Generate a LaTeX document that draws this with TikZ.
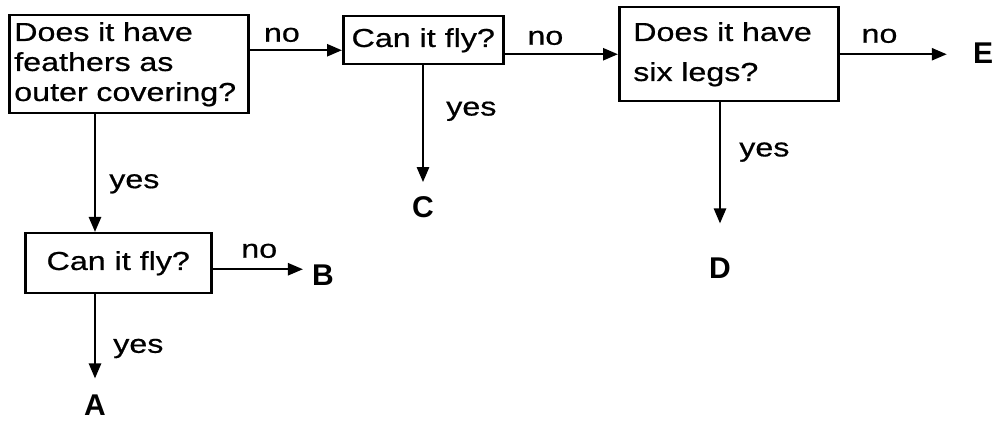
\documentclass[tikz,border=0pt]{standalone}
\usepackage{fontspec}
\setmainfont[FakeStretch=1.24, FakeBold=0.6]{Liberation Sans}
\newfontfamily\leaffont{Liberation Sans}
\usetikzlibrary{positioning, arrows.meta}

\begin{document}
\begin{tikzpicture}[x=1pt, y=-1pt,
  qbox/.style={draw, line width=2.5pt, font=\fontsize{26}{30}\selectfont, inner sep=5pt},
  fl/.style={-{Triangle[length=15pt, width=12pt]}, line width=2.5pt},
  et/.style={font=\fontsize{26}{30}\selectfont, inner sep=2pt},
  leaf/.style={font=\leaffont\bfseries\fontsize{30}{30}\selectfont, inner sep=0pt}]
\useasboundingbox (0,0) rectangle (994,422);
\node[qbox, anchor=north west, text width=229pt, minimum height=98pt, align=left] (feathers) at (8,14) {Does it have\\feathers as\\outer covering?};
\node[qbox, anchor=north west, minimum width=160pt, minimum height=48pt] (fly1) at (342,15) {Can it fly?};
\node[qbox, anchor=north west, text width=191pt, inner xsep=14pt, minimum height=94pt, align=left] (legs) at (618,6) {Does it have\\[10pt]six legs?};
\node[qbox, anchor=north west, minimum width=186pt, minimum height=60pt] (fly2) at (24,232) {Can it fly?};
\node[leaf] (A) at (95,405) {A};
\node[leaf] (B) at (323,275) {B};
\node[leaf] (C) at (423,207) {C};
\node[leaf] (D) at (720,268) {D};
\node[leaf] (E) at (983,53) {E};
\draw[fl] ([yshift=14pt]feathers.east) -- node[et, above=5pt, pos=0.35]{no} ([yshift=14pt]feathers.east -| fly1.west);
\draw[fl] ([yshift=-14pt]fly1.east) -- node[et, above=6pt, pos=0.36]{no} ([yshift=-14pt]fly1.east -| legs.west);
\draw[fl, shorten >=26pt] (legs.east) -- node[et, above=8pt, pos=0.3]{no} (legs.east -| E.west);
\draw[fl, shorten >=9pt] ([yshift=-6pt]fly2.east) -- node[et, above=8pt, pos=0.47]{no} ([yshift=-6pt]fly2.east -| B.west);
\draw[fl] (A |- feathers.south) -- node[et, right=11pt, pos=0.59]{yes} (A |- fly2.north);
\draw[fl, shorten >=14pt] (C |- fly1.south) -- node[et, right=20pt, pos=0.35]{yes} (C.north);
\draw[fl, shorten >=34pt] (D |- legs.south) -- node[et, right=16pt, pos=0.32]{yes} (D.north);
\draw[fl, shorten >=16pt] (A |- fly2.south) -- node[et, right=15pt, pos=0.54]{yes} (A.north);
\end{tikzpicture}
\end{document}
